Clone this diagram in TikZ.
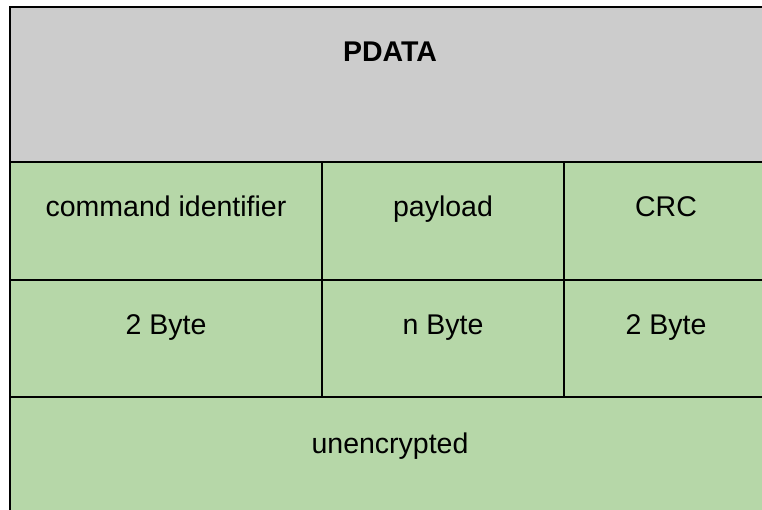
\documentclass[tikz,border=0pt]{standalone}
\usepackage{fontspec}
\setmainfont{Liberation Sans}
\usetikzlibrary{positioning}
\definecolor{headgrey}{HTML}{CCCCCC}
\definecolor{fieldgreen}{HTML}{B6D7A8}

\begin{document}
\begin{tikzpicture}[
    x=1pt, y=-1pt,
    cellbox/.style={rectangle, draw=black, line width=2.2pt, inner sep=0pt, outer sep=0pt},
    headbox/.style={cellbox, fill=headgrey, minimum width=800pt, minimum height=155pt},
    fieldbox/.style={cellbox, fill=fieldgreen},
    rowbox/.style={fieldbox, minimum height=118pt},
    celltext/.style={anchor=base, inner sep=0pt, font=\fontsize{28.5}{34}\selectfont},
    line width=2.2pt, black
    ]

    \path[use as bounding box, clip] (0,0) rectangle (762,510);

    %Cells
    \node[headbox, anchor=north west] (head) at (10,7) {};
    \node[rowbox, minimum width=312pt, below right=0pt and 0pt of head.south west] (cmd) {};
    \node[rowbox, minimum width=242pt, right=0pt of cmd]                           (pay) {};
    \node[rowbox, minimum width=250pt, right=0pt of pay]                           (crc) {};
    \node[rowbox, minimum width=312pt, minimum height=117pt, below=0pt of cmd]     (cmdlen) {};
    \node[rowbox, minimum width=242pt, minimum height=117pt, below=0pt of pay]     (paylen) {};
    \node[rowbox, minimum width=250pt, minimum height=117pt, below=0pt of crc]     (crclen) {};
    \node[fieldbox, minimum width=800pt, minimum height=150pt, below right=0pt and 0pt of cmdlen.south west] (enc) {};

    % Texts
    \node[celltext, font=\fontsize{28.5}{34}\selectfont\bfseries] (headtext) at (390,62) {PDATA};
    \node[celltext] (cmdtext)    at ([yshift=-55pt]cmd.north)    {command identifier};
    \node[celltext] (paytext)    at ([yshift=-55pt]pay.north)    {payload};
    \node[celltext] (crctext)    at (666,217)                    {CRC};
    \node[celltext] (cmdlentext) at ([yshift=-54pt]cmdlen.north) {2 Byte};
    \node[celltext] (paylentext) at ([yshift=-54pt]paylen.north) {n Byte};
    \node[celltext] (crclentext) at (666,334)                    {2 Byte};
    \node[celltext] (enctext)    at (390,453)                    {unencrypted};
\end{tikzpicture}
\end{document}
